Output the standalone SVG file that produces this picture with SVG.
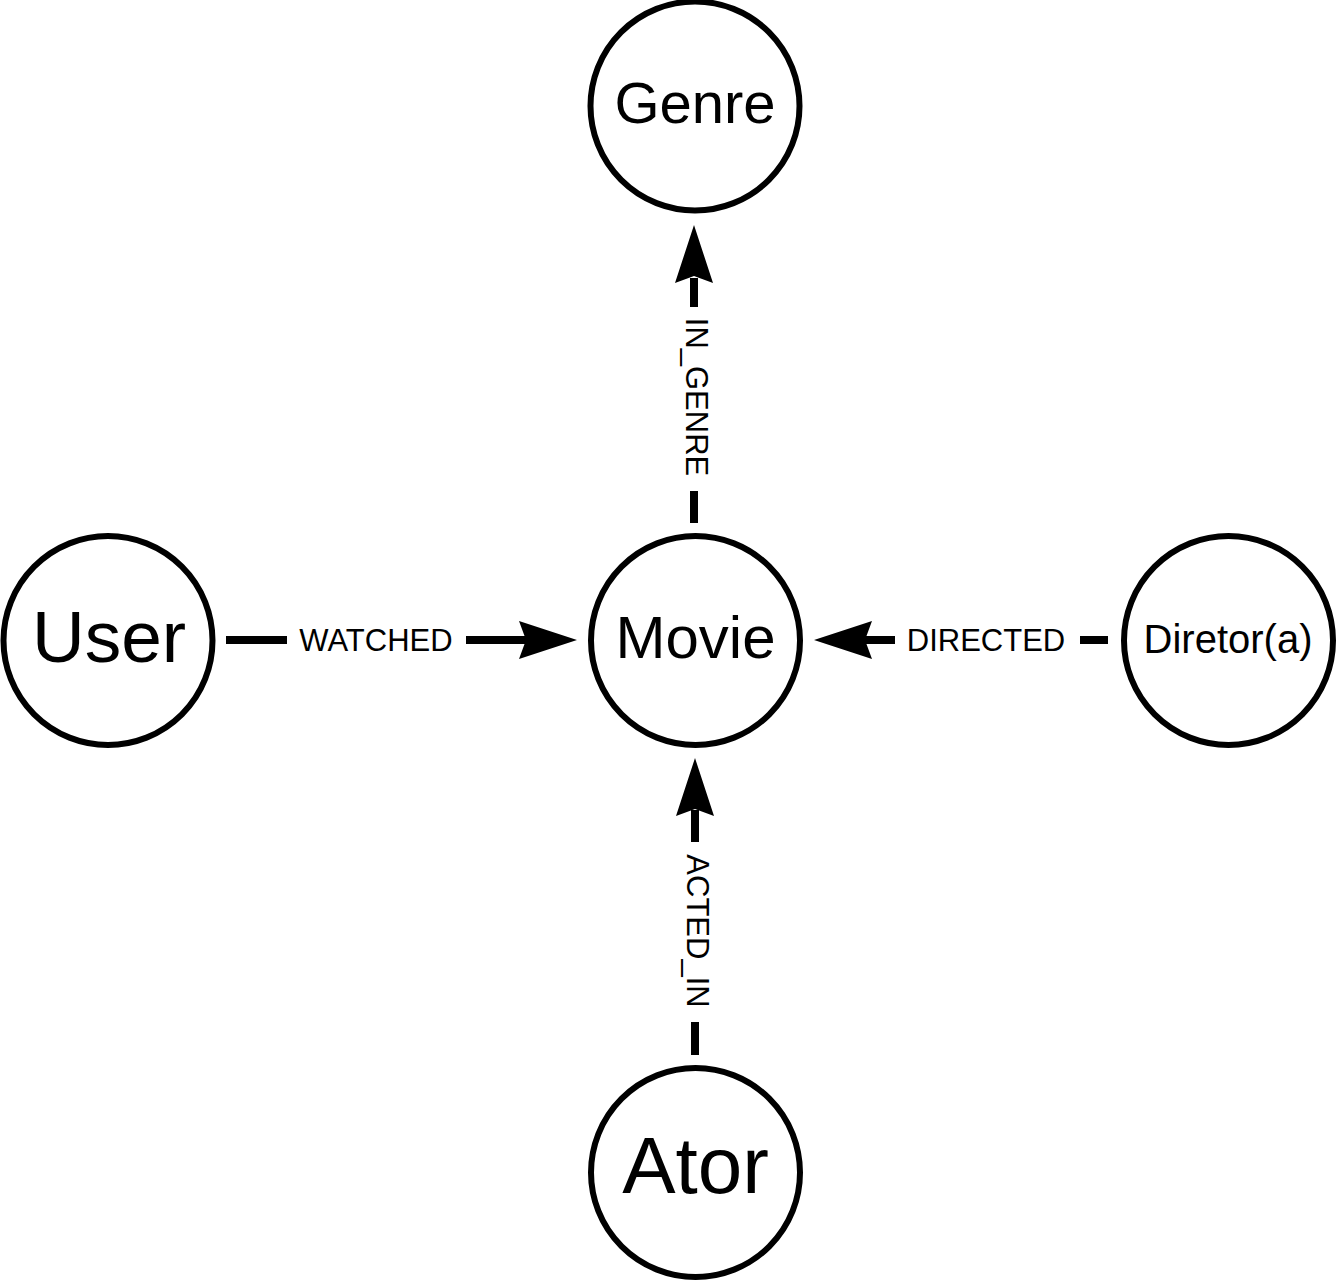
<svg xmlns="http://www.w3.org/2000/svg" width="1337" height="1283" viewBox="0 0 1337 1283">
<style>
.node{fill:#fff;stroke:#000;stroke-width:6}
.nl{font-family:"Liberation Sans",Arial,sans-serif;fill:#000;text-anchor:middle}
.edge{stroke:#000;stroke-width:8;fill:none}
.el{font-family:"Liberation Sans",Arial,sans-serif;font-size:31px;fill:#000;text-anchor:middle}
.head{fill:#000;stroke:none}
</style>
<rect width="1337" height="1283" fill="#fff"/>
<g id="connectors">
<g id="e-in-genre">
<line class="edge" x1="694" y1="523" x2="694" y2="491"/>
<line class="edge" x1="694" y1="307" x2="694" y2="278"/>
<polygon class="head" points="694,225 713,283 694,276 675,283"/>
<text class="el" transform="translate(686,397) rotate(90)">IN_GENRE</text>
</g>
<g id="e-watched">
<line class="edge" x1="226" y1="640" x2="287" y2="640"/>
<line class="edge" x1="466" y1="640" x2="526" y2="640"/>
<polygon class="head" points="577,640 519,621 526,640 519,659"/>
<text class="el" x="376" y="651">WATCHED</text>
</g>
<g id="e-directed">
<line class="edge" x1="1108" y1="640" x2="1080" y2="640"/>
<line class="edge" x1="895" y1="640" x2="864" y2="640"/>
<polygon class="head" points="814,640 872,621 865,640 872,659"/>
<text class="el" x="986" y="651">DIRECTED</text>
</g>
<g id="e-acted-in">
<line class="edge" x1="695" y1="1055" x2="695" y2="1022"/>
<line class="edge" x1="695" y1="842" x2="695" y2="810"/>
<polygon class="head" points="695,758 714,816 695,809 676,816"/>
<text class="el" transform="translate(687,931) rotate(90)">ACTED_IN</text>
</g>
</g>
<g id="genre">
<circle class="node" cx="695" cy="106" r="104.5"/>
<text class="nl" x="695" y="123" font-size="58">Genre</text>
</g>
<g id="movie">
<circle class="node" cx="695.5" cy="640.5" r="104.5"/>
<text class="nl" x="695.5" y="658" font-size="60">Movie</text>
</g>
<g id="user">
<circle class="node" cx="108" cy="640.5" r="104.5"/>
<text class="nl" x="109" y="662" font-size="73">User</text>
</g>
<g id="diretor">
<circle class="node" cx="1228.5" cy="640.5" r="104.5"/>
<text class="nl" x="1228" y="653" font-size="40">Diretor(a)</text>
</g>
<g id="ator">
<circle class="node" cx="695.5" cy="1172.5" r="104.5"/>
<text class="nl" x="695.5" y="1193" font-size="80">Ator</text>
</g>
</svg>
